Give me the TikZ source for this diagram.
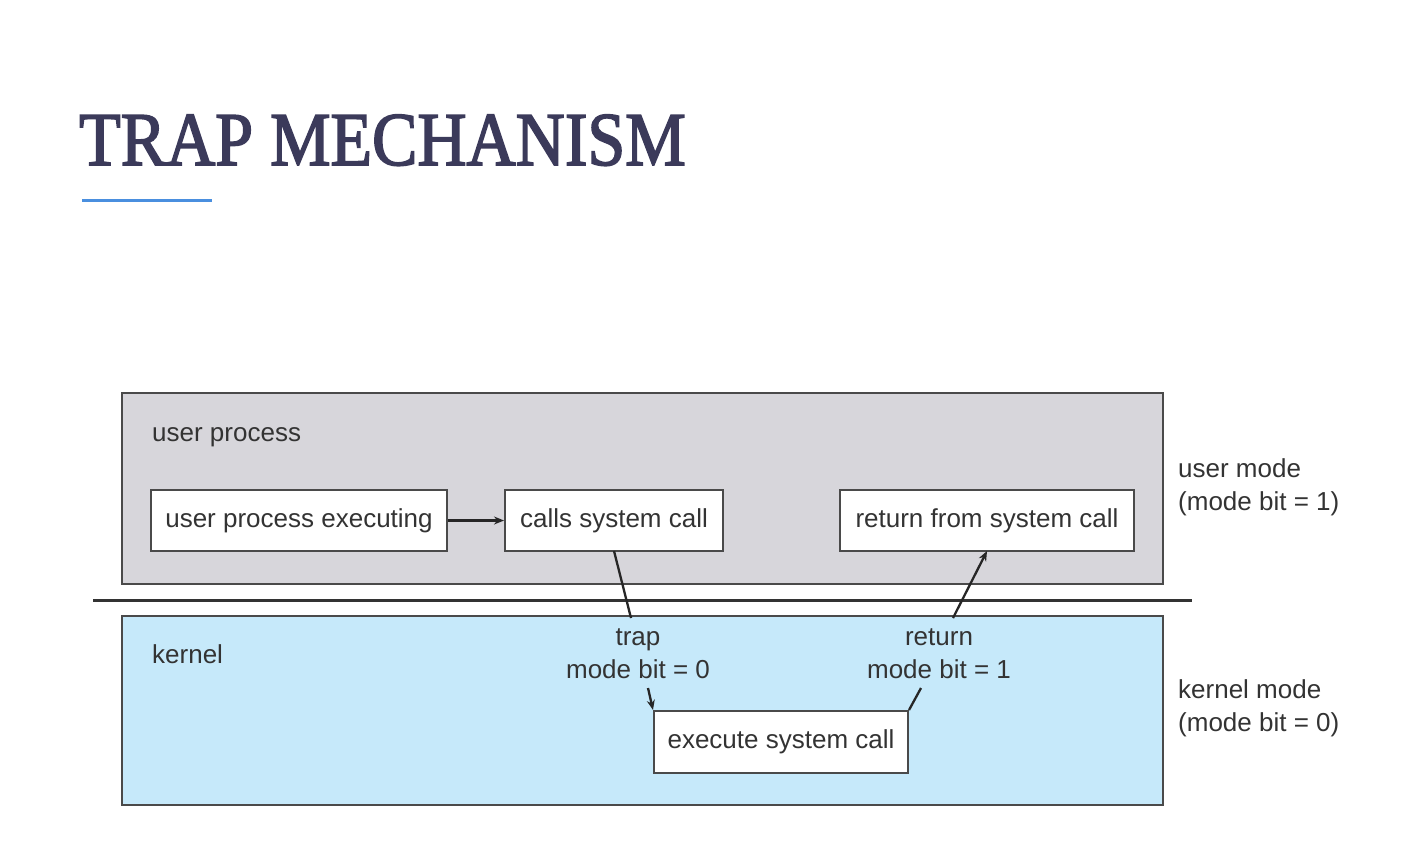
\documentclass[tikz,border=0pt]{standalone}
\usepackage{fontspec}
\setmainfont{Liberation Serif}
\newfontfamily\titlefont[FakeBold=2.2]{Liberation Serif}
\newfontfamily\diagfont{Liberation Sans}
\usetikzlibrary{arrows.meta}
\definecolor{titlecol}{HTML}{3B3A5A}
\definecolor{ulblue}{HTML}{4A8FDF}
\definecolor{userfill}{HTML}{D7D6DB}
\definecolor{kernfill}{HTML}{C6E9FA}
\definecolor{edgecol}{HTML}{4A4A4A}
\definecolor{txtcol}{HTML}{333333}
\tikzset{
  stepbox/.style={draw=edgecol, line width=2pt, fill=white, rectangle, inner sep=0pt, minimum height=61pt, text=txtcol, font=\diagfont\fontsize{26}{30}\selectfont},
  lbl/.style={inner sep=0pt, text=txtcol, font=\diagfont\fontsize{26}{32.5}\selectfont},
  conn/.style={draw=black!85, line width=2.3pt},
  tip/.style={-{Stealth[length=10pt,width=8pt]}}
}
\begin{document}
\begin{tikzpicture}[x=1pt,y=-1pt]
\useasboundingbox (0,0) rectangle (1420,864);
\fill[white] (0,0) rectangle (1420,864);
% title
\node[anchor=base west, inner sep=0pt, text=titlecol, font=\titlefont\fontsize{76}{84}\selectfont] (title) at (79,165) {\scalebox{0.895}[1]{TRAP MECHANISM}};
\draw[ulblue, line width=3pt] (82,200) -- (212,200);
% regions
\draw[fill=userfill, draw=edgecol, line width=2pt] (122,393) rectangle (1163,584);
\draw[fill=kernfill, draw=edgecol, line width=2pt] (122,616) rectangle (1163,805);
\draw[black!80, line width=3pt] (93,600) -- (1192,600);
% region labels
\node[lbl, anchor=base west] (up) at (152,441) {user process};
\node[lbl, anchor=base west] (kn) at (152,663) {kernel};
\node[lbl, anchor=base west, align=left] (um) at (1178,510) {user mode\\(mode bit = 1)};
\node[lbl, anchor=base west, align=left] (km) at (1178,731) {kernel mode\\(mode bit = 0)};
% boxes
\node[stepbox, minimum width=296pt] (exec) at (299,520.5) {user process executing};
\node[stepbox, minimum width=218pt] (calls) at (614,520.5) {calls system call};
\node[stepbox, minimum width=294pt] (ret) at (987,520.5) {return from system call};
\node[stepbox, minimum width=254pt, minimum height=62pt] (sys) at (781,742) {execute system call};
% connector labels
\node[lbl, align=center, anchor=base] (trap) at (638,678) {trap\\mode bit = 0};
\node[lbl, align=center, anchor=base] (rtn) at (939,678) {return\\mode bit = 1};
% connectors
\draw[conn, tip] (exec.east) -- (calls.west);
\coordinate (t1) at (631,618);
\coordinate (t2) at (648,688);
\draw[conn] (614,551) -- (t1);
\draw[conn, tip] (t2) -- (sys.north west);
\coordinate (r1) at (921,688);
\coordinate (r2) at (953,618);
\draw[conn] (sys.north east) -- (r1);
\draw[conn, tip] (r2) -- (987,551);
\end{tikzpicture}
\end{document}
